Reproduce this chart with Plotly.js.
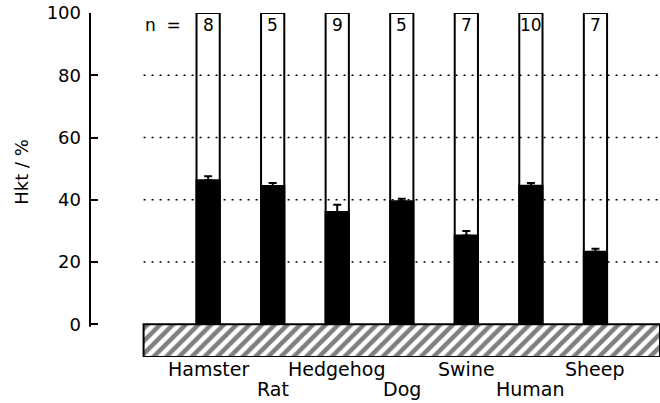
<!DOCTYPE html>
<html>
<head>
<meta charset="utf-8">
<script src="https://cdn.plot.ly/plotly-3.0.1.min.js"></script>
<style>html,body{margin:0;padding:0;background:#fff;}#chart{width:660px;height:403px;}</style>
</head>
<body>
<div id="chart"></div>
<script>
const categories = ["Hamster", "Rat", "Hedgehog", "Dog", "Swine", "Human", "Sheep"];
const hct = [46.3, 44.4, 36.1, 39.5, 28.5, 44.5, 23.3];
const sem = [1.3, 1.0, 2.3, 0.8, 1.5, 0.9, 1.0];
const nCounts = [8, 5, 9, 5, 7, 10, 7];
const yTicks = [0, 20, 40, 60, 80, 100];
const gridLevels = [20, 40, 60, 80];

const xIdx = categories.map((c, i) => i);
const barW = 0.36;
const fontFam = "DejaVu Sans, Arial, sans-serif";
const baseDepth = 10.5;
const xLo = -1, xHi = 7;

const traces = [
  {
    type: "bar", x: xIdx, y: categories.map(() => 100), width: barW,
    marker: {color: "#fff", line: {color: "#000", width: 2}},
    hoverinfo: "skip"
  },
  {
    type: "bar", x: xIdx, y: hct, width: barW,
    marker: {color: "#000", line: {color: "#000", width: 2}},
    error_y: {type: "data", symmetric: false, array: sem, arrayminus: sem.map(() => 0),
              color: "#000", thickness: 2, width: 4},
    hoverinfo: "skip"
  },
  {
    type: "bar", x: [(xLo + xHi) / 2], y: [baseDepth], base: [-baseDepth], width: [xHi - xLo],
    marker: {color: "#fff", line: {color: "#000", width: 2},
             pattern: {shape: "/", size: 9, solidity: 0.5, fgcolor: "#000", bgcolor: "#fff", fillmode: "overlay"}},
    hoverinfo: "skip"
  }
];

const shapes = gridLevels.map(g => ({
  type: "line", xref: "x", yref: "y", x0: xLo, x1: xHi, y0: g, y1: g,
  line: {color: "#000", width: 1.6, dash: "2px,6px"}, layer: "above"
}));
shapes.push({type: "line", xref: "paper", yref: "y", x0: 0, x1: 0, y0: -0.8, y1: 100,
  line: {color: "#000", width: 2}});

const annotations = [];
categories.forEach((c, i) => {
  annotations.push({xref: "x", yref: "paper", x: i, y: 0, yanchor: "middle", xanchor: "center",
    yshift: (i % 2 === 0) ? -12 : -32, text: c, showarrow: false,
    font: {family: fontFam, size: 19, color: "#000"}});
  annotations.push({xref: "x", yref: "y", x: i, y: 100, yanchor: "top", xanchor: "center",
    yshift: 0, text: String(nCounts[i]), showarrow: false,
    font: {family: fontFam, size: 17, color: "#000"}});
});
annotations.push({xref: "x", yref: "y", x: -0.7, y: 100, yanchor: "top", xanchor: "center",
  text: "n  =", showarrow: false, font: {family: fontFam, size: 17, color: "#000"}});
annotations.push({xref: "paper", yref: "y", x: 0, y: 49, xanchor: "center", yanchor: "middle",
  xshift: -68, textangle: -90, text: "Hkt / %", showarrow: false,
  font: {family: fontFam, size: 18, color: "#000"}});

const layout = {
  width: 660, height: 403,
  margin: {l: 90, r: 0, t: 13, b: 46, pad: 0},
  paper_bgcolor: "#fff", plot_bgcolor: "#fff",
  showlegend: false, barmode: "overlay",
  font: {family: fontFam, color: "#000"},
  xaxis: {range: [-1.83, 7.0], showgrid: false, zeroline: false, showline: false,
          showticklabels: false, ticks: "", fixedrange: true},
  yaxis: {range: [-baseDepth, 100], showgrid: false, zeroline: false, showline: false,
          tickvals: yTicks, ticktext: yTicks.map(String), ticks: "inside", ticklen: 8,
          tickwidth: 2, tickcolor: "#000", ticklabelstandoff: 8,
          tickfont: {family: fontFam, size: 18, color: "#000"}, fixedrange: true},
  shapes: shapes,
  annotations: annotations
};

Plotly.newPlot("chart", traces, layout, {displayModeBar: false, staticPlot: true});
</script>
</body>
</html>
